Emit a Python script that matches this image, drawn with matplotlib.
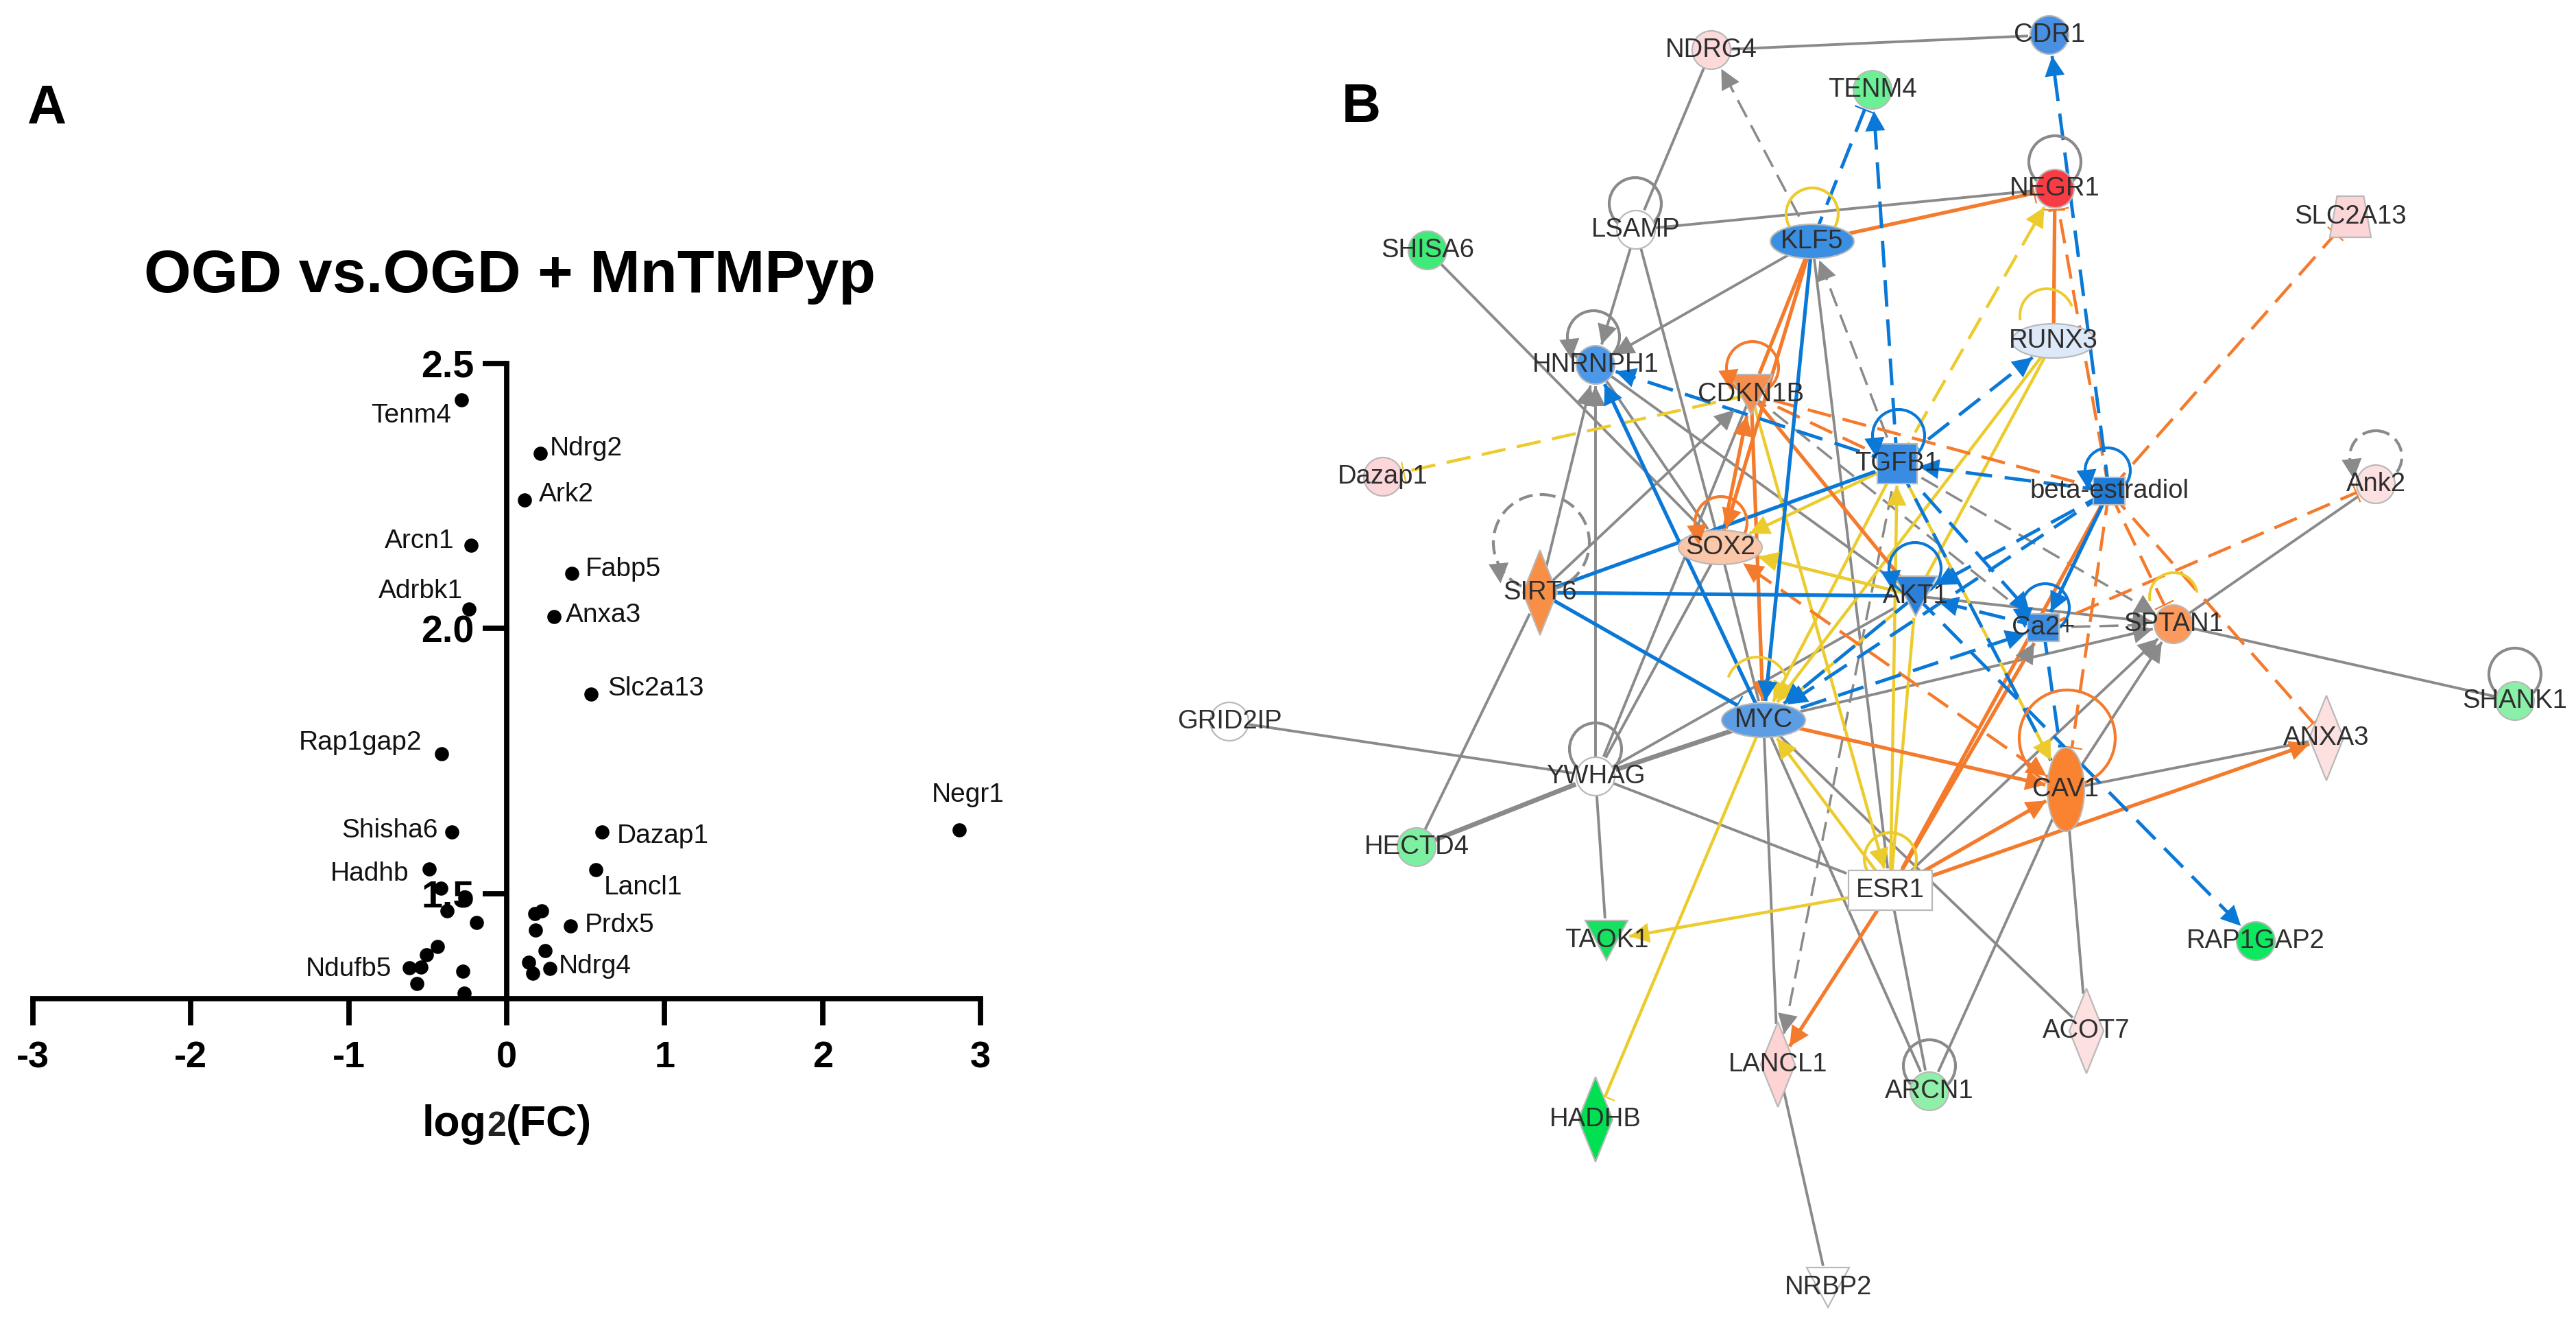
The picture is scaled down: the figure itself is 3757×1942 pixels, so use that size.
import numpy as np
import matplotlib
matplotlib.use("Agg")
import matplotlib.pyplot as plt
from matplotlib.patches import Arc, Circle, Ellipse, Polygon, Rectangle

plt.rcParams["font.family"] = ["Liberation Sans", "DejaVu Sans"]
plt.rcParams["axes.unicode_minus"] = False

# --- panel A values
fc_x = [-0.287, 0.212, 0.112, -0.224, 0.411, -0.237, 0.299, 0.535, -0.411, 2.867,
        -0.349, 0.602, -0.49, 0.564, -0.415, -0.266, -0.378, -0.191, 0.22, 0.178,
        0.183, 0.402, -0.44, -0.51, -0.544, -0.618, -0.569, -0.278, -0.27, 0.245,
        0.137, 0.274, 0.166]
fc_y = [2.431, 2.33, 2.242, 2.157, 2.104, 2.037, 2.022, 1.877, 1.764, 1.62,
        1.617, 1.616, 1.546, 1.545, 1.51, 1.492, 1.467, 1.446, 1.467, 1.462,
        1.432, 1.439, 1.4, 1.385, 1.362, 1.36, 1.33, 1.354, 1.312, 1.392,
        1.371, 1.359, 1.35]
gene_names = ["Tenm4", "Ndrg2", "Ark2", "Arcn1", "Fabp5", "Adrbk1", "Anxa3", "Slc2a13",
              "Rap1gap2", "Negr1", "Shisha6", "Dazap1", "Hadhb", "Lancl1", "Prdx5",
              "Ndrg4", "Ndufb5"]
gene_lx = [600, 855, 826, 612, 909, 613, 880, 956, 526, 1412, 569, 967, 539, 938, 904, 868, 508]
gene_ly = [606, 654, 721, 789, 830, 862, 897, 1004, 1083, 1159, 1211, 1219, 1274, 1294, 1349, 1409, 1413]
x_ticks = [-3, -2, -1, 0, 1, 2, 3]
y_ticks = [1.5, 2.0, 2.5]
y_tick_labels = ["1.5", "2.0", "2.5"]

# --- panel B nodes: name, x, y, fill, shape
node_names = ["NDRG4", "CDR1", "TENM4", "LSAMP", "KLF5", "NEGR1", "SLC2A13", "SHISA6", "HNRNPH1",
              "CDKN1B", "RUNX3", "TGFB1", "beta-estradiol", "Dazap1", "Ank2", "SOX2", "SIRT6",
              "AKT1", "Ca2+", "SPTAN1", "GRID2IP", "MYC", "YWHAG", "CAV1", "ANXA3", "SHANK1",
              "HECTD4", "ESR1", "TAOK1", "RAP1GAP2", "LANCL1", "ACOT7", "ARCN1", "HADHB", "NRBP2"]
node_x = [2496, 2989, 2731, 2386, 2643, 2997, 3428, 2082, 2327,
          2554, 2995, 2767, 3076, 2017, 3465, 2509, 2246,
          2794, 2980, 3170, 1793, 2572, 2327, 3013, 3393, 3668,
          2066, 2757, 2343, 3290, 2593, 3043, 2814, 2327, 2666]
node_y = [73, 51, 131, 335, 352, 275, 316, 365, 532,
          575, 497, 676, 716, 695, 706, 798, 864,
          869, 915, 910, 1052, 1050, 1132, 1151, 1076, 1022,
          1235, 1298, 1371, 1372, 1552, 1503, 1591, 1632, 1877]
node_fill = ["#fddada", "#4a90e2", "#6cf096", "#ffffff", "#3a8fe2", "#f93c44", "#fcd6d6", "#3eea78", "#4c98e8",
             "#f58f50", "#dde9f8", "#3a8ce2", "#1f7dd8", "#fdd6da", "#fde0e0", "#fcc6a8", "#f88f46",
             "#2b80da", "#3a8ce2", "#fb9a5c", "#ffffff", "#5c9de4", "#ffffff", "#f98330", "#fde0e0", "#8af0a8",
             "#7cf0a0", "#ffffff", "#18e060", "#0ee860", "#fdd3d3", "#fde0e0", "#90f0aa", "#00e050", "#ffffff"]
node_shape = ["c", "c", "c", "c", "e", "c", "t", "c", "c",
              "v", "e", "s", "b", "c", "c", "e", "d",
              "v", "b", "c", "c", "e", "c", "E", "d", "c",
              "c", "r", "v", "c", "d", "d", "c", "d", "v"]

# --- panel B edges: source, target, end mark (">" arrow, "|" bar, "<" arrows both ways, "" none)
edges_gray = [
    ("NDRG4", "LSAMP", ""), ("NDRG4", "CDR1", ""), ("LSAMP", "NEGR1", ""), ("LSAMP", "HNRNPH1", ">"),
    ("LSAMP", "SOX2", ""), ("KLF5", "HNRNPH1", ">"), ("SHISA6", "SOX2", ""), ("HNRNPH1", "SOX2", ""),
    ("HNRNPH1", "AKT1", ""), ("YWHAG", "HNRNPH1", ">"), ("SIRT6", "HNRNPH1", ">"), ("SIRT6", "CDKN1B", ">"),
    ("HECTD4", "SIRT6", ""), ("SOX2", "YWHAG", ""), ("CDKN1B", "YWHAG", ""),
    ("GRID2IP", "YWHAG", ""), ("YWHAG", "TAOK1", ""), ("YWHAG", "ESR1", ""),
    ("YWHAG", "AKT1", ""), ("MYC", "SPTAN1", ">"), ("ESR1", "Ca2+", ">"), ("MYC", "LANCL1", ""),
    ("MYC", "ARCN1", ""), ("MYC", "ACOT7", ""), ("ESR1", "ARCN1", ""), ("CAV1", "ARCN1", ""),
    ("CAV1", "ACOT7", ""), ("CAV1", "ANXA3", ""), ("ESR1", "SPTAN1", ">"), ("CAV1", "SPTAN1", ">"),
    ("LANCL1", "NRBP2", ""), ("SPTAN1", "SHANK1", ""), ("SPTAN1", "Ank2", ""), ("SOX2", "AKT1", ""),
    ("AKT1", "SPTAN1", ">"), ("KLF5", "ESR1", ""), ("SOX2", "MYC", ""),
]
edges_gray_thick = [("MYC", "YWHAG", ""), ("HECTD4", "YWHAG", "")]
edges_gray_dash = [
    ("KLF5", "NDRG4", ">"), ("TGFB1", "KLF5", ">"), ("TGFB1", "LANCL1", ">"), ("CDKN1B", "Ca2+", ""),
    ("Ca2+", "SPTAN1", ""), ("TGFB1", "SPTAN1", ">"),
]
edges_blue = [
    ("KLF5", "MYC", ">"), ("SIRT6", "TGFB1", ""), ("SIRT6", "AKT1", ""), ("SIRT6", "MYC", "|"),
    ("MYC", "HNRNPH1", ">"), ("beta-estradiol", "Ca2+", ">"),
]
edges_blue_dash = [
    ("KLF5", "TENM4", "|"), ("TGFB1", "TENM4", ">"), ("beta-estradiol", "CDR1", ">"),
    ("TGFB1", "HNRNPH1", ">"), ("TGFB1", "RUNX3", ">"), ("beta-estradiol", "TGFB1", ">"),
    ("beta-estradiol", "AKT1", ">"), ("beta-estradiol", "MYC", ">"), ("AKT1", "MYC", ">"),
    ("MYC", "Ca2+", ">"), ("TGFB1", "Ca2+", ">"), ("AKT1", "RAP1GAP2", ">"), ("TGFB1", "CAV1", ""),
    ("Ca2+", "CAV1", ""), ("Ca2+", "AKT1", ">"),
]
edges_orange = [
    ("KLF5", "NEGR1", "|"), ("KLF5", "CDKN1B", ""), ("KLF5", "SOX2", ">"), ("SOX2", "CDKN1B", ">"),
    ("CDKN1B", "MYC", ">"), ("CDKN1B", "AKT1", ""), ("RUNX3", "NEGR1", "|"), ("MYC", "CAV1", ">"),
    ("ESR1", "CAV1", ">"), ("ESR1", "ANXA3", ">"), ("ESR1", "LANCL1", ">"), ("ESR1", "Ca2+", ""),
    ("beta-estradiol", "ESR1", ""),
]
edges_orange_dash = [
    ("beta-estradiol", "CDKN1B", ""), ("TGFB1", "CDKN1B", ""), ("beta-estradiol", "NEGR1", "|"),
    ("beta-estradiol", "SLC2A13", "|"), ("Ca2+", "Ank2", "|"), ("beta-estradiol", "SPTAN1", "|"),
    ("beta-estradiol", "ANXA3", "|"), ("beta-estradiol", "CAV1", "|"), ("CAV1", "SOX2", "<"),
]
edges_yellow = [
    ("MYC", "HADHB", "|"), ("ESR1", "TAOK1", ">"), ("RUNX3", "MYC", ">"), ("RUNX3", "AKT1", ""),
    ("TGFB1", "SOX2", ">"), ("AKT1", "SOX2", ">"), ("ESR1", "TGFB1", ">"), ("ESR1", "AKT1", ""),
    ("CDKN1B", "ESR1", ">"), ("TGFB1", "MYC", ">"), ("AKT1", "MYC", ">"), ("ESR1", "MYC", ">"),
    ("TGFB1", "CAV1", ">"),
]
edges_yellow_dash = [("CDKN1B", "Dazap1", "|"), ("TGFB1", "NEGR1", ">")]

# self loops: node, circle x, y, radius, colour key, dashed, head on it
loops = [
    ("LSAMP", 2385, 297, 38, "gray", False, False), ("KLF5", 2643, 312, 38, "yellow", False, False),
    ("HNRNPH1", 2324, 491, 38, "gray", False, True), ("CDKN1B", 2556, 536, 38, "orange", False, True),
    ("SOX2", 2510, 762, 38, "orange", False, True), ("SIRT6", 2248, 791, 70, "gray", True, True),
    ("TGFB1", 2769, 635, 38, "blue", False, True), ("AKT1", 2793, 829, 38, "blue", False, True),
    ("NEGR1", 2997, 236, 38, "gray", False, False),
    ("beta-estradiol", 3074, 686, 33, "blue", False, True), ("Ank2", 3465, 666, 38, "gray", True, True),
    ("Ca2+", 2983, 886, 35, "blue", False, True),
    ("YWHAG", 2327, 1092, 38, "gray", False, False),
    ("ESR1", 2757, 1252, 38, "yellow", False, False), ("CAV1", 3015, 1076, 70, "orange", False, False),
    ("ARCN1", 2814, 1554, 38, "gray", False, False), ("SHANK1", 3668, 983, 38, "gray", False, False),
]
# open yellow loops: x, y, radius, start angle, end angle
open_loops = [(2985, 460, 39, 170, 340), (3170, 870, 35, 170, 350), (2563, 1003, 45, 200, 340)]

COLORS = {"gray": "#8a8a8a", "blue": "#0a78d6", "orange": "#f47a2c", "yellow": "#eccb2c"}
# half width, half height of each shape
SHAPE_SIZE = {"c": (28, 28), "e": (61, 25), "E": (27, 61), "d": (25, 62), "s": (29, 29), "b": (23, 20),
              "v": (31, 29), "t": (30, 30), "r": (61, 29)}

fig = plt.figure(figsize=(37.57, 19.42), dpi=100, facecolor="white")

# ---------- panel A
ax = fig.add_axes([48 / 3757, 1 - 1456 / 1942, 1382 / 3757, 926 / 1942])
ax.set_xlim(-3, 3)
ax.set_ylim(1.302, 2.5)
ax.patch.set_alpha(0)
for side in ("top", "right"):
    ax.spines[side].set_visible(False)
ax.spines["left"].set_position(("data", 0))
ax.spines["left"].set_linewidth(5.6)
ax.spines["bottom"].set_linewidth(5.6)
ax.set_xticks(x_ticks)
ax.set_yticks(y_ticks, y_tick_labels)
ax.tick_params(axis="x", width=5.6, length=28, pad=16, labelsize=39)
ax.tick_params(axis="y", width=5.6, length=25, pad=9, labelsize=40)
for lab in ax.get_xticklabels() + ax.get_yticklabels():
    lab.set_fontweight("bold")
ax.scatter(fc_x, fc_y, s=220, color="black", linewidths=0, zorder=5, clip_on=False)

# ---------- overlay in image pixels, panel B and free text
ov = fig.add_axes([0, 0, 1, 1], zorder=3)
ov.set_xlim(0, 3757)
ov.set_ylim(1942, 0)
ov.axis("off")

for name, lx, ly in zip(gene_names, gene_lx, gene_ly):
    ov.text(lx, ly, name, fontsize=28, ha="center", va="center", color="#111111")
ov.text(744, 403, "OGD vs.OGD + MnTMPyp", fontsize=63.5, fontweight="bold", ha="center", va="center")
ov.text(68, 160, "A", fontsize=57, fontweight="bold", ha="center", va="center")
ov.text(1985, 158, "B", fontsize=57, fontweight="bold", ha="center", va="center")
ov.text(710, 1656, "log", fontsize=45, fontweight="bold", ha="right", va="baseline")
ov.text(710, 1656, "2", fontsize=36, fontweight="bold", ha="left", va="baseline", color="#222222")
ov.text(738, 1656, "(FC)", fontsize=45, fontweight="bold", ha="left", va="baseline")

pos = {n: (x, y) for n, x, y in zip(node_names, node_x, node_y)}
shape = dict(zip(node_names, node_shape))


def edge_reach(name, ux, uy):
    # distance from node centre to its outline along direction (ux, uy)
    a, b = SHAPE_SIZE[shape[name]]
    px, py = abs(ux) / a, abs(uy) / b
    if shape[name] == "d":
        return 1 / (px + py)
    if shape[name] in ("s", "b", "r"):
        return 1 / max(px, py)
    return 1 / np.hypot(px, py)


def head(x, y, ux, uy, color, size=29):
    nx, ny = -uy, ux
    pts = [(x, y), (x - ux * size + nx * size * 0.5, y - uy * size + ny * size * 0.5),
           (x - ux * size - nx * size * 0.5, y - uy * size - ny * size * 0.5)]
    ov.add_patch(Polygon(pts, closed=True, fc=color, ec="none", zorder=4))


def draw_edges(edges, key, dashed=False, lw=3.0):
    color = COLORS[key]
    for src, dst, end in edges:
        x0, y0 = pos[src]
        x1, y1 = pos[dst]
        d = np.hypot(x1 - x0, y1 - y0)
        ux, uy = (x1 - x0) / d, (y1 - y0) / d
        ex = x1 - ux * (edge_reach(dst, ux, uy) + 3)
        ey = y1 - uy * (edge_reach(dst, ux, uy) + 3)
        ls = (0, (8, 3.8)) if dashed else "-"
        ov.plot([x0, ex], [y0, ey], color=color, lw=lw, ls=ls, zorder=2, solid_capstyle="butt")
        if end in (">", "<"):
            head(ex, ey, ux, uy, color)
        if end == "<":
            r = edge_reach(src, ux, uy) + 3
            head(x0 + ux * r, y0 + uy * r, -ux, -uy, color)
        if end == "|":
            ov.plot([ex - uy * 14, ex + uy * 14], [ey + ux * 14, ey - ux * 14], color=color, lw=1.6, zorder=2)


draw_edges(edges_gray, "gray", lw=2.8)
draw_edges(edges_gray_thick, "gray", lw=5.0)
draw_edges(edges_gray_dash, "gray", dashed=True, lw=2.5)
draw_edges(edges_yellow, "yellow", lw=3.2)
draw_edges(edges_yellow_dash, "yellow", dashed=True, lw=3.2)
draw_edges(edges_orange, "orange", lw=3.8)
draw_edges(edges_orange_dash, "orange", dashed=True, lw=3.2)
draw_edges(edges_blue, "blue", lw=3.8)
draw_edges(edges_blue_dash, "blue", dashed=True, lw=3.5)

for name, cx, cy, r, key, dashed, has_head in loops:
    ov.add_patch(Circle((cx, cy), r, fc="none", ec=COLORS[key], lw=3.0,
                        ls=(0, (5, 2.5)) if dashed else "-", zorder=2))
    if has_head:
        head(cx - r * 0.85, cy + r * 0.85, 0.1, 1, COLORS[key])
for cx, cy, r, t1, t2 in open_loops:
    ov.add_patch(Arc((cx, cy), 2 * r, 2 * r, theta1=t1, theta2=t2, ec=COLORS["yellow"], lw=2.8, zorder=2))

for name, x, y, fill, kind in zip(node_names, node_x, node_y, node_fill, node_shape):
    a, b = SHAPE_SIZE[kind]
    style = dict(fc=fill, ec="#b9b9b9", lw=1.6, zorder=3)
    if kind == "c":
        ov.add_patch(Circle((x, y), a, **style))
    elif kind in ("e", "E"):
        ov.add_patch(Ellipse((x, y), 2 * a, 2 * b, **style))
    elif kind == "d":
        ov.add_patch(Polygon([(x, y - b), (x + a, y), (x, y + b), (x - a, y)], **style))
    elif kind in ("s", "b", "r"):
        ov.add_patch(Rectangle((x - a, y - b), 2 * a, 2 * b, **style))
    elif kind == "v":
        ov.add_patch(Polygon([(x - a, y - b), (x + a, y - b), (x, y + b)], **style))
    elif kind == "t":
        ov.add_patch(Polygon([(x - a * 0.65, y - b), (x + a * 0.65, y - b), (x + a, y + b), (x - a, y + b)], **style))
    ov.text(x, y, name, fontsize=27.5, ha="center", va="center", color="#2e2e2e", zorder=6)

fig.savefig("out.png", dpi=100)
